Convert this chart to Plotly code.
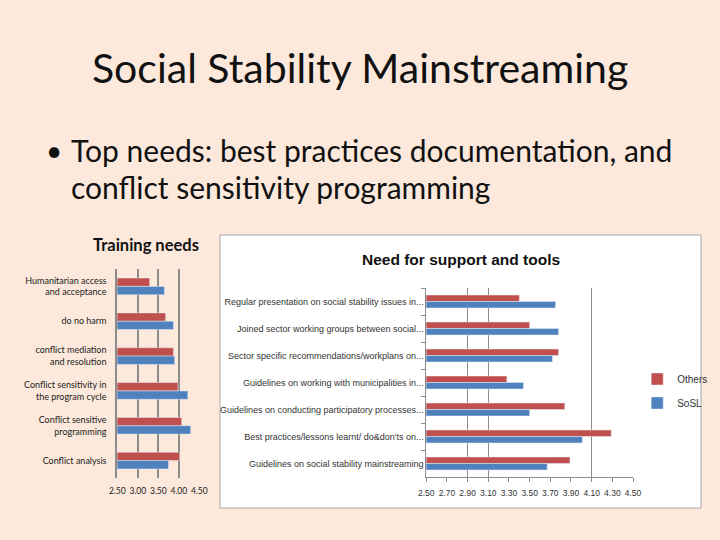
import plotly.graph_objects as go

# ---- data ----
train_cats = ["Humanitarian access<br>and acceptance", "do no harm",
              "conflict mediation<br>and resolution",
              "Conflict sensitivity in<br>the program cycle",
              "Conflict sensitive<br>programming", "Conflict analysis"]
train_others = [3.29, 3.68, 3.87, 3.98, 4.07, 4.02]
train_sosl = [3.65, 3.87, 3.90, 4.22, 4.29, 3.75]
train_ticks = [2.5, 3.0, 3.5, 4.0, 4.5]

need_cats = ["Regular presentation on social stability issues in...",
             "Joined sector working groups between social...",
             "Sector specific recommendations/workplans on...",
             "Guidelines on working with municipalities in...",
             "Guidelines on conducting participatory processes...",
             "Best practices/lessons learnt/ do&don'ts on...",
             "Guidelines on social stability mainstreaming"]
need_others = [3.40, 3.50, 3.78, 3.28, 3.84, 4.29, 3.89]
need_sosl = [3.75, 3.78, 3.72, 3.44, 3.50, 4.01, 3.67]
need_ticks = [2.5, 2.7, 2.9, 3.1, 3.3, 3.5, 3.7, 3.9, 4.1, 4.3, 4.5]
need_grid = [2.9, 3.1, 4.1]

RED = "#C0504D"
BLUE = "#4F81BD"
BG = "#FCE9DC"
SLIDE_FONT = "Lato, 'Open Sans', sans-serif"
NARROW = "'Liberation Sans Narrow', 'Arial Narrow', 'Liberation Sans', sans-serif"

fig = go.Figure()

# left chart
fig.add_trace(go.Bar(y=train_cats, x=train_others, orientation="h", name="Others",
                     marker_color=RED, xaxis="x", yaxis="y", showlegend=False))
fig.add_trace(go.Bar(y=train_cats, x=train_sosl, orientation="h", name="SoSL",
                     marker_color=BLUE, xaxis="x", yaxis="y", showlegend=False))
# right chart
fig.add_trace(go.Bar(y=need_cats, x=need_others, orientation="h", name="Others",
                     legendgroup="a", marker_color=RED, xaxis="x2", yaxis="y2"))
fig.add_trace(go.Bar(y=need_cats, x=need_sosl, orientation="h", name="SoSL",
                     legendgroup="b", marker_color=BLUE, xaxis="x2", yaxis="y2"))
# invisible trace to drive the sparse grid axis
fig.add_trace(go.Bar(y=need_cats, x=[None] * len(need_cats), orientation="h",
                     xaxis="x3", yaxis="y2", showlegend=False, hoverinfo="skip"))

W, H = 720, 540
def px(a, b):
    return [a / W, b / W]
def py(top, bottom):
    return [1 - bottom / H, 1 - top / H]

fig.update_layout(
    width=W, height=H,
    margin=dict(l=0, r=0, t=0, b=0, autoexpand=False),
    paper_bgcolor=BG, plot_bgcolor="rgba(0,0,0,0)",
    barmode="group", bargap=0.52, bargroupgap=0.0,
    xaxis=dict(domain=px(117.3, 199.5), range=[2.5, 4.505], tickvals=train_ticks,
               ticktext=["2.50", "3.00", "3.50", "4.00", "4.50"], automargin=False,
               showgrid=True, gridcolor="#8C8C8C", gridwidth=1.5, zeroline=False,
               showline=False, ticks="", anchor="y", tickangle=0,
               ticklabelstandoff=6,
               tickfont=dict(family=SLIDE_FONT, size=8.5, color="#222")),
    yaxis=dict(domain=py(269, 478), autorange="reversed", showline=True,
               linecolor="#8C8C8C", linewidth=2, ticks="", anchor="x", automargin=False,
               ticklabelstandoff=7,
               tickfont=dict(family=SLIDE_FONT, size=9, color="#222")),
    xaxis2=dict(domain=px(426.3, 633), range=[2.5, 4.5], tickvals=need_ticks,
                ticktext=[f"{v:.2f}" for v in need_ticks], automargin=False,
                showgrid=False, zeroline=False, showline=True, linecolor="#8C8C8C",
                ticks="outside", ticklen=4, tickcolor="#8C8C8C", anchor="y2",
                tickangle=0, ticklabelstandoff=4,
                tickfont=dict(family=NARROW, size=8.5, color="#333")),
    xaxis3=dict(domain=px(426.3, 633), range=[2.5, 4.5], tickvals=need_grid,
                showticklabels=False, showgrid=True, gridcolor="#8C8C8C",
                automargin=False,
                zeroline=False, overlaying="x2", anchor="y2", ticks=""),
    yaxis2=dict(domain=py(288, 477), autorange="reversed", showline=True,
                linecolor="#8C8C8C", ticks="outside", ticklen=4, tickcolor="#8C8C8C",
                tickson="boundaries", anchor="x2", automargin=False,
                tickfont=dict(family=NARROW, size=9, color="#333")),
    legend=dict(x=0.885, y=0.325, xanchor="left", yanchor="top",
                bgcolor="rgba(0,0,0,0)", tracegroupgap=5, itemwidth=30,
                font=dict(family=NARROW, size=10, color="#333")),
    shapes=[dict(type="rect", xref="paper", yref="paper", layer="below",
                 x0=220 / W, x1=701 / W, y0=1 - 508 / H, y1=1 - 235 / H,
                 fillcolor="white", line=dict(color="#A6A6A6", width=1))],
    annotations=[
        dict(text="Social Stability Mainstreaming", x=360 / W, y=1 - 68 / H,
             xref="paper", yref="paper", showarrow=False, xanchor="center",
             yanchor="middle", font=dict(family=SLIDE_FONT, size=41, color="#111")),
        dict(text="•", x=44 / W, y=1 - 150 / H, xref="paper", yref="paper",
             showarrow=False, xanchor="left", yanchor="middle",
             font=dict(family=SLIDE_FONT, size=28, color="#111")),
        dict(text="Top needs: best practices documentation, and", x=69 / W,
             y=1 - 150 / H, xref="paper", yref="paper", showarrow=False,
             xanchor="left", yanchor="middle",
             font=dict(family=SLIDE_FONT, size=30, color="#111")),
        dict(text="conflict sensitivity programming", x=69 / W, y=1 - 187 / H,
             xref="paper", yref="paper", showarrow=False, xanchor="left",
             yanchor="middle", font=dict(family=SLIDE_FONT, size=30, color="#111")),
        dict(text="<b>Training needs</b>", x=146 / W, y=1 - 245 / H, xref="paper",
             yref="paper", showarrow=False, xanchor="center", yanchor="middle",
             font=dict(family=SLIDE_FONT, size=16.5, color="#111")),
        dict(text="<b>Need for support and tools</b>", x=461 / W, y=1 - 259 / H,
             xref="paper", yref="paper", showarrow=False, xanchor="center",
             yanchor="middle", font=dict(family=NARROW, size=15.5, color="#111")),
    ],
)

fig.write_html("out.html", config={"displayModeBar": False},
               post_script="document.body.style.margin='0';"
                           "document.body.style.background='#FCE9DC';")
